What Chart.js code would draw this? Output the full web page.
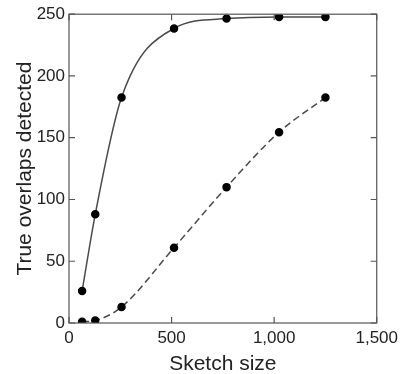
<!DOCTYPE html>
<html>
<head>
<meta charset="utf-8">
<script src="https://cdn.jsdelivr.net/npm/chart.js@4"></script>
<style>
  html, body { margin: 0; padding: 0; background: #fff; }
  #wrap { width: 403px; height: 374px; }
</style>
</head>
<body>
<div id="wrap"><canvas id="chart"></canvas></div>
<script>
// sketch sizes and overlaps found
const sketchSizes = [64, 128, 256, 512, 768, 1024, 1250];
const solidValues = [26, 88, 182.5, 238.5, 246.5, 247.8, 247.8];
const dashedValues = [1, 2, 13, 61, 110, 154.5, 182.5];
const xTicks = [0, 500, 1000, 1500];
const yTicks = [0, 50, 100, 150, 200, 250];

const toPoints = (vals) => vals.map((v, i) => ({ x: sketchSizes[i], y: v }));

// box round the plot with ticks pointing inward on all four sides
const frame = {
    id: 'frame',
    afterDatasetsDraw(chart) {
        const ctx = chart.ctx;
        const a = chart.chartArea;
        const xs = chart.scales.x, ys = chart.scales.y;
        const len = 6;
        ctx.save();
        ctx.strokeStyle = '#555';
        ctx.lineWidth = 1.2;
        ctx.strokeRect(a.left, a.top, a.right - a.left, a.bottom - a.top);
        ctx.beginPath();
        xTicks.forEach(t => {
            const px = xs.getPixelForValue(t);
            ctx.moveTo(px, a.bottom); ctx.lineTo(px, a.bottom - len);
            ctx.moveTo(px, a.top); ctx.lineTo(px, a.top + len);
        });
        yTicks.forEach(t => {
            const py = ys.getPixelForValue(t);
            ctx.moveTo(a.left, py); ctx.lineTo(a.left + len, py);
            ctx.moveTo(a.right, py); ctx.lineTo(a.right - len, py);
        });
        ctx.stroke();
        ctx.restore();
    }
};

new Chart(document.getElementById('chart'), {
    type: 'line',
    data: {
        datasets: [
            {
                data: toPoints(solidValues),
                borderColor: '#4a4a4a',
                borderWidth: 1.5,
                pointBackgroundColor: '#000',
                pointBorderColor: '#000',
                pointRadius: 3.5,
                cubicInterpolationMode: 'monotone'
            },
            {
                data: toPoints(dashedValues),
                borderColor: '#4a4a4a',
                borderWidth: 1.5,
                borderDash: [7, 4],
                pointBackgroundColor: '#000',
                pointBorderColor: '#000',
                pointRadius: 3.5,
                cubicInterpolationMode: 'monotone'
            }
        ]
    },
    options: {
        responsive: true,
        maintainAspectRatio: false,
        animation: false,
        layout: { padding: { top: 14, right: 25, left: 9, bottom: 0 } },
        plugins: { legend: { display: false }, tooltip: { enabled: false } },
        scales: {
            x: {
                type: 'linear',
                min: 0, max: 1500,
                grid: { display: false, drawTicks: false },
                border: { display: false },
                afterBuildTicks: (s) => { s.ticks = xTicks.map(v => ({ value: v })); },
                afterFit: (s) => { s.height = 51; },
                ticks: { color: '#222', padding: 5, font: { family: 'Liberation Sans', size: 17 } },
                title: { display: true, text: 'Sketch size', color: '#222', padding: { top: 4, bottom: -3 },
                         font: { family: 'Liberation Sans', size: 21 } }
            },
            y: {
                min: 0, max: 250,
                grid: { display: false, drawTicks: false },
                border: { display: false },
                afterBuildTicks: (s) => { s.ticks = yTicks.map(v => ({ value: v })); },
                afterFit: (s) => { s.width = 60; },
                ticks: { color: '#222', padding: 4, font: { family: 'Liberation Sans', size: 17 } },
                title: { display: true, text: 'True overlaps detected', color: '#222', padding: { bottom: 2 },
                         font: { family: 'Liberation Sans', size: 21 } }
            }
        }
    },
    plugins: [frame]
});
</script>
</body>
</html>
